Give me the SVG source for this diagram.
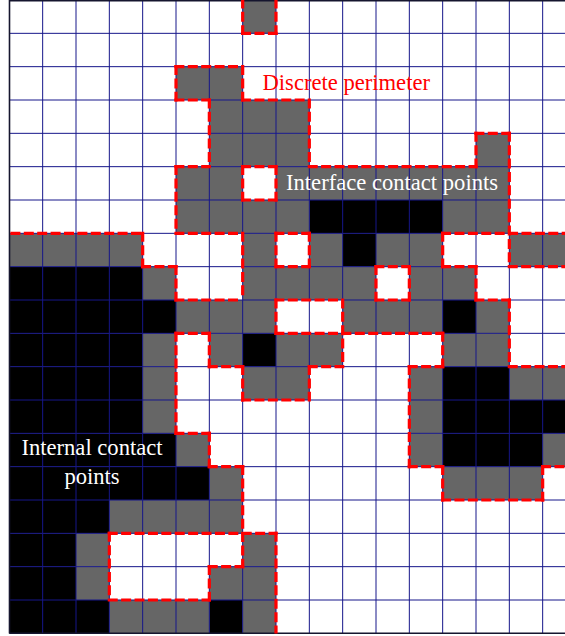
<svg xmlns="http://www.w3.org/2000/svg" width="565" height="636" viewBox="0 0 565 636">
<style>
.g{fill:#666666}
.b{fill:#000000}
.grid{stroke:#16168a;stroke-width:1;fill:none}
.border{stroke:#15152e;stroke-width:1.6;fill:none}
.per{stroke:#ff0000;stroke-width:3.2;fill:none;stroke-dasharray:6.8 6.6;stroke-linecap:square}
.lbl{font-family:"Liberation Serif","Times New Roman",serif;font-size:22.6px}
</style>
<rect x="0" y="0" width="565" height="636" fill="#ffffff"/>
<g id="cells" transform="translate(9.333,0) scale(33.333)">
<g id="black-cells" class="b">
<rect x="9" y="6" width="4" height="1"/>
<rect x="10" y="7" width="1" height="1"/>
<rect x="0" y="8" width="4" height="1"/>
<rect x="0" y="9" width="5" height="1"/><rect x="13" y="9" width="1" height="1"/>
<rect x="0" y="10" width="4" height="1"/><rect x="7" y="10" width="1" height="1"/>
<rect x="0" y="11" width="4" height="1"/><rect x="13" y="11" width="2" height="1"/>
<rect x="0" y="12" width="4" height="1"/><rect x="13" y="12" width="4" height="1"/>
<rect x="0" y="13" width="5" height="1"/><rect x="13" y="13" width="3" height="1"/>
<rect x="0" y="14" width="6" height="1"/>
<rect x="0" y="15" width="3" height="1"/>
<rect x="0" y="16" width="2" height="1"/>
<rect x="0" y="17" width="2" height="1"/>
<rect x="0" y="18" width="3" height="1"/><rect x="6" y="18" width="1" height="1"/>
</g>
<g id="gray-cells" class="g">
<rect x="7" y="0" width="1" height="1"/>
<rect x="5" y="2" width="2" height="1"/>
<rect x="6" y="3" width="3" height="1"/>
<rect x="6" y="4" width="3" height="1"/><rect x="14" y="4" width="1" height="1"/>
<rect x="5" y="5" width="2" height="1"/><rect x="8" y="5" width="7" height="1"/>
<rect x="5" y="6" width="4" height="1"/><rect x="13" y="6" width="2" height="1"/>
<rect x="0" y="7" width="4" height="1"/><rect x="7" y="7" width="1" height="1"/><rect x="9" y="7" width="1" height="1"/><rect x="11" y="7" width="2" height="1"/><rect x="15" y="7" width="2" height="1"/>
<rect x="4" y="8" width="1" height="1"/><rect x="7" y="8" width="4" height="1"/><rect x="12" y="8" width="2" height="1"/>
<rect x="5" y="9" width="3" height="1"/><rect x="10" y="9" width="3" height="1"/><rect x="14" y="9" width="1" height="1"/>
<rect x="4" y="10" width="1" height="1"/><rect x="6" y="10" width="1" height="1"/><rect x="8" y="10" width="2" height="1"/><rect x="13" y="10" width="2" height="1"/>
<rect x="4" y="11" width="1" height="1"/><rect x="7" y="11" width="2" height="1"/><rect x="12" y="11" width="1" height="1"/><rect x="15" y="11" width="2" height="1"/>
<rect x="4" y="12" width="1" height="1"/><rect x="12" y="12" width="1" height="1"/>
<rect x="5" y="13" width="1" height="1"/><rect x="12" y="13" width="1" height="1"/><rect x="16" y="13" width="1" height="1"/>
<rect x="6" y="14" width="1" height="1"/><rect x="13" y="14" width="3" height="1"/>
<rect x="3" y="15" width="4" height="1"/>
<rect x="2" y="16" width="1" height="1"/><rect x="7" y="16" width="1" height="1"/>
<rect x="2" y="17" width="1" height="1"/><rect x="6" y="17" width="2" height="1"/>
<rect x="3" y="18" width="3" height="1"/><rect x="7" y="18" width="1" height="1"/>
</g>
</g>
<g id="grid">
<path class="grid" d="M42.67 0V633.33M76 0V633.33M109.33 0V633.33M142.67 0V633.33M176 0V633.33M209.33 0V633.33M242.67 0V633.33M276 0V633.33M309.33 0V633.33M342.67 0V633.33M376 0V633.33M409.33 0V633.33M442.67 0V633.33M476 0V633.33M509.33 0V633.33M542.67 0V633.33"/>
<path class="grid" d="M9.33 33.33H565M9.33 66.67H565M9.33 100H565M9.33 133.33H565M9.33 166.67H565M9.33 200H565M9.33 233.33H565M9.33 266.67H565M9.33 300H565M9.33 333.33H565M9.33 366.67H565M9.33 400H565M9.33 433.33H565M9.33 466.67H565M9.33 500H565M9.33 533.33H565M9.33 566.67H565M9.33 600H565"/>
<path class="border" d="M9.5 0V633.5M9.33 0.6H565M9.33 633.2H565"/>
</g>
<g id="perimeter">
<path class="per" d="M242.67 33.33H276M176 66.67H242.67M176 100H209.33M242.67 100H309.33M476 133.33H509.33M176 166.67H209.33M242.67 166.67H276M309.33 166.67H476M242.67 200H276M12 233.33H142.67M176 233.33H242.67M276 233.33H309.33M442.67 233.33H576M142.67 266.67H176M276 266.67H309.33M376 266.67H409.33M442.67 266.67H476M509.33 266.67H576M176 300H242.67M276 300H342.67M376 300H409.33M476 300H509.33M176 333.33H209.33M276 333.33H442.67M209.33 366.67H242.67M309.33 366.67H342.67M409.33 366.67H442.67M509.33 366.67H576M242.67 400H309.33M176 433.33H209.33M209.33 466.67H242.67M409.33 466.67H442.67M542.67 466.67H576M442.67 500H542.67M109.33 533.33H276M209.33 566.67H242.67M109.33 600H209.33"/>
<path class="per" d="M109.33 533.33V600M142.67 233.33V266.67M176 66.67V100M176 166.67V233.33M176 266.67V300M176 333.33V433.33M209.33 100V166.67M209.33 333.33V366.67M209.33 433.33V466.67M209.33 566.67V600M242.67 0V33.33M242.67 66.67V100M242.67 166.67V200M242.67 233.33V300M242.67 366.67V400M242.67 466.67V566.67M276 0V33.33M276 166.67V200M276 233.33V266.67M276 300V333.33M276 533.33V632M309.33 100V166.67M309.33 233.33V266.67M309.33 366.67V400M342.67 300V366.67M376 266.67V300M409.33 266.67V300M409.33 366.67V466.67M442.67 233.33V266.67M442.67 333.33V366.67M442.67 466.67V500M476 133.33V166.67M476 266.67V300M509.33 133.33V266.67M509.33 300V366.67M542.67 466.67V500"/>
</g>
<g id="labels">
<g id="label-perimeter"><text class="lbl" x="262.5" y="90" fill="#ff0000">Discrete perimeter</text></g>
<g id="label-interface"><text class="lbl" x="286" y="189.5" fill="#ffffff">Interface contact points</text></g>
<g id="label-internal"><text class="lbl" text-anchor="middle" fill="#ffffff"><tspan x="92" y="455">Internal contact</tspan><tspan x="92" y="484">points</tspan></text></g>
</g>
</svg>
